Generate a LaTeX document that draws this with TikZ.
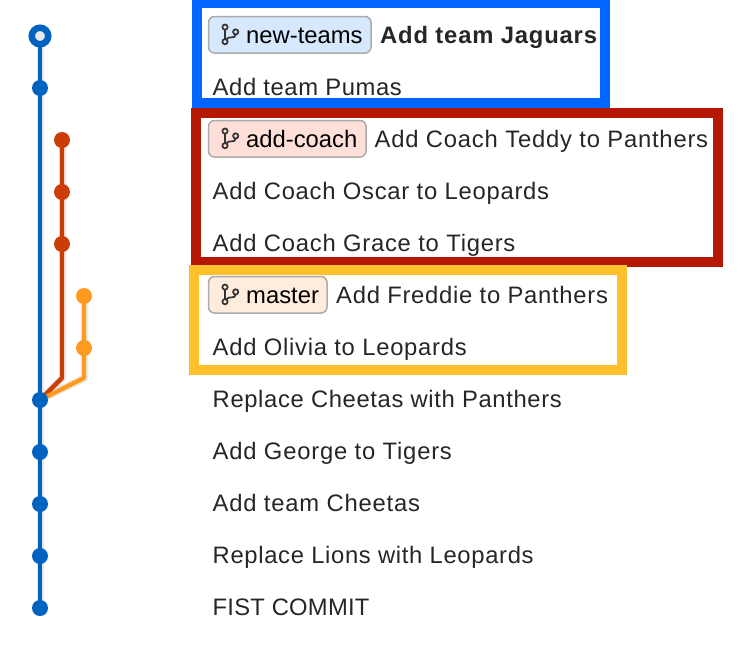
\documentclass[tikz,border=0pt]{standalone}
\usepackage{fontspec}
\usetikzlibrary{backgrounds}
\setmainfont{Liberation Sans}
\definecolor{gblue}{HTML}{0063C1}
\definecolor{gred}{HTML}{CC3D06}
\definecolor{gorange}{HTML}{FF9A1F}
\definecolor{gshadow}{HTML}{E8E8E8}
\definecolor{txt}{HTML}{262626}
\definecolor{fblue}{HTML}{0066FF}
\definecolor{fred}{HTML}{B51705}
\definecolor{fyellow}{HTML}{FFC12B}
\definecolor{pblue}{HTML}{D6E8FD}
\definecolor{pred}{HTML}{FFDFD8}
\definecolor{pyellow}{HTML}{FFECDC}
\tikzset{
  x=1pt,y=-1pt,
  commit/.style={circle,inner sep=0pt,minimum size=16pt,fill=#1},
  head/.style={circle,inner sep=0pt,minimum size=16.5pt,draw=gblue,line width=6.5pt,fill=gshadow},
  link/.style={draw=#1,line width=4.3pt,line join=round},
  linkshadow/.style={draw=gshadow,line width=7.5pt,line join=round},
  label/.style={anchor=base west,inner sep=0pt,text=txt,font=\fontsize{23.8}{28}\selectfont\addfontfeature{LetterSpace=#1}},
  labelb/.style={anchor=base west,inner sep=0pt,text=txt,font=\fontsize{23.8}{28}\selectfont\bfseries\addfontfeature{LetterSpace=#1}},
  pilltext/.style={anchor=base west,inner sep=0pt,text=black,font=\fontsize{23.8}{28}\selectfont},
  frameb/.style={draw=#1,line width=10pt,fill=none},
  pill/.style={draw=black!33,line width=1.5pt,rounded corners=6pt,fill=#1},
  bicon/.style={draw=black!80,line width=1.7pt,fill=none},
}
\newcommand{\branchicon}[2]{%
  \draw[bicon] (#1,#2-7.9) circle (2.6) (#1,#2+6.7) circle (2.6) (#1+10.7,#2-3.1) circle (2.6);
  \draw[bicon] (#1,#2-5.3) -- (#1,#2+4.1);
  \draw[bicon] (#1+10.7,#2-0.5) .. controls (#1+10.7,#2+4.5) and (#1+3,#2+0.5) .. (#1+1.4,#2+4.3);
}
\begin{document}
\begin{tikzpicture}
\useasboundingbox (0,0) rectangle (752,646);
% commits
\node[head] (c0) at (40,36) {};
\node[commit=gblue] (c1) at (40,88) {};
\node[commit=gblue] (c2) at (40,400) {};
\node[commit=gblue] (c3) at (40,452) {};
\node[commit=gblue] (c4) at (40,504) {};
\node[commit=gblue] (c5) at (40,556) {};
\node[commit=gblue] (c6) at (40,608) {};
\node[commit=gred] (r0) at (62,140) {};
\node[commit=gred] (r1) at (62,192) {};
\node[commit=gred] (r2) at (62,244) {};
\node[commit=gorange] (o0) at (84,296) {};
\node[commit=gorange] (o1) at (84,348) {};
\coordinate (rb) at (62,378);
\coordinate (ob) at (84,378);
% connectors and frames, behind
\begin{scope}[on background layer]
\fill[white] (0,0) rectangle (752,646);
\draw[frameb=fblue] (197,3) rectangle (605,103);
\draw[frameb=fred] (196,113) rectangle (718,262);
\draw[frameb=fyellow] (194,270) rectangle (622,370);
\path[linkshadow] ([xshift=.3pt]c0.center) -- ([xshift=.3pt]c6.center);
\path[linkshadow] ([xshift=.5pt]r0.center) -- ([xshift=.5pt]rb) -- ([xshift=.5pt,yshift=.5pt]c2.center);
\path[linkshadow] ([xshift=.5pt]o0.center) -- ([xshift=.5pt]ob) -- ([xshift=.5pt,yshift=.5pt]c2.center);
\path[link=gred] (r0.center) -- (rb) -- (c2.center);
\path[link=gorange] (o0.center) -- (ob) -- (c2.center);
\path[link=gblue] (c0.center) -- (c6.center);
\end{scope}
% pills
\path[pill=pblue] (208.5,16.5) rectangle (371,53);
\path[pill=pred] (208.5,120.5) rectangle (366,157);
\path[pill=pyellow] (208.5,276.5) rectangle (327,313);
\branchicon{225}{35}
\branchicon{225}{139}
\branchicon{225}{295}
\node[pilltext] (p0) at (246,43) {new-teams};
\node[pilltext] (p1) at (246,147) {add-coach};
\node[pilltext] (p2) at (246,303) {master};
% labels
\node[labelb=3.4] (t0) at (380,43) {Add team Jaguars};
\node[label=2.5] (t1) at (212.5,95) {Add team Pumas};
\node[label=3.3] (t2) at (374.5,147) {Add Coach Teddy to Panthers};
\node[label=3.1] (t3) at (212.5,199) {Add Coach Oscar to Leopards};
\node[label=3.2] (t4) at (212.5,251) {Add Coach Grace to Tigers};
\node[label=3.05] (t5) at (336,303) {Add Freddie to Panthers};
\node[label=3.1] (t6) at (212.5,355) {Add Olivia to Leopards};
\node[label=2.65] (t7) at (212.5,407) {Replace Cheetas with Panthers};
\node[label=3.3] (t8) at (212.5,459) {Add George to Tigers};
\node[label=3.3] (t9) at (212.5,511) {Add team Cheetas};
\node[label=2.8] (t10) at (212.5,563) {Replace Lions with Leopards};
\node[label=1.0] (t11) at (212.5,615) {FIST COMMIT};
\end{tikzpicture}
\end{document}
